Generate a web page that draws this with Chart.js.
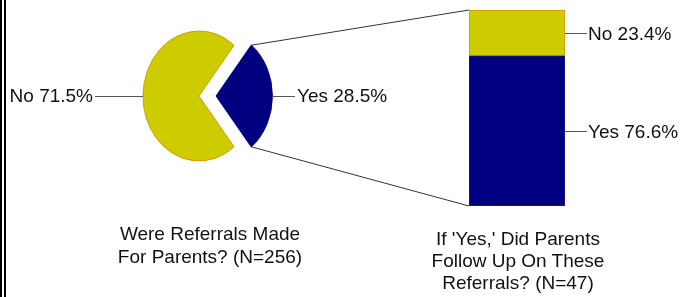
<!DOCTYPE html>
<html>
<head>
<meta charset="utf-8">
<script src="https://cdn.jsdelivr.net/npm/chart.js@4.4.0/dist/chart.umd.min.js"></script>
<style>
  html, body { margin: 0; padding: 0; background: #fff; }
  #wrap { position: relative; width: 689px; height: 297px; overflow: hidden; }
  #wrap canvas { position: absolute; left: 0; top: 0; }
  #edge { position: absolute; left: 0; top: 0; width: 0; height: 297px; border-left: 6px double #000; }
  .title { position: absolute; width: 220px; text-align: center; font-family: "Liberation Sans", Arial, sans-serif; font-size: 19px; color: #111; }
</style>
</head>
<body>
<div id="wrap">
  <canvas id="pieChart" width="689" height="297"></canvas>
  <canvas id="barChart" width="689" height="297"></canvas>
  <div id="edge"></div>
  <div class="title" id="pieTitle" style="left:100px; top:222px; line-height:23px;"></div>
  <div class="title" id="barTitle" style="left:408px; top:228px; line-height:22px;"></div>
</div>
<script>
// data
var pieLabels = ['Yes', 'No'];
var pieValues = [28.5, 71.5];
var barLabels = ['Yes', 'No'];
var barValues = [76.6, 23.4];
var pieTitleLines = ['Were Referrals Made', 'For Parents? (N=256)'];
var barTitleLines = ["If 'Yes,' Did Parents", 'Follow Up On These', 'Referrals? (N=47)'];

var navy = '#000080';
var olive = '#cccc00';
var orange = '#e09000';
var labelFont = '19px "Liberation Sans", Arial, sans-serif';
var squeeze = 56 / 65;          // pie is drawn a bit narrower than tall
var pieLeader = [23, 48];        // leader line length for each pie label
var barLeader = 22;

document.getElementById('pieTitle').innerHTML = pieTitleLines.join('<br>');
document.getElementById('barTitle').innerHTML = barTitleLines.join('<br>');

// point on the (exploded, squeezed) pie edge
function piePoint(arc, angle) {
    var p = arc.getProps(['x', 'y', 'startAngle', 'endAngle', 'outerRadius'], true);
    var mid = (p.startAngle + p.endAngle) / 2;
    var off = (arc.options.offset || 0) / 4;
    var x0 = p.x + Math.cos(mid) * off + Math.cos(angle) * p.outerRadius;
    var y0 = p.y + Math.sin(mid) * off + Math.sin(angle) * p.outerRadius;
    return { x: p.x + (x0 - p.x) * squeeze, y: y0 };
}

var ellipsePlugin = {
    id: 'ellipse',
    beforeDatasetsDraw: function (chart) {
        var a = chart.getDatasetMeta(0).data[0];
        var ctx = chart.ctx;
        ctx.save();
        ctx.translate(a.x, a.y);
        ctx.scale(squeeze, 1);
        ctx.translate(-a.x, -a.y);
    },
    afterDatasetsDraw: function (chart) {
        chart.ctx.restore();
    }
};

var pieLabelPlugin = {
    id: 'pieLabels',
    afterDraw: function (chart) {
        var ctx = chart.ctx;
        var arcs = chart.getDatasetMeta(0).data;
        ctx.save();
        ctx.font = labelFont;
        ctx.textBaseline = 'middle';
        arcs.forEach(function (arc, i) {
            var mid = (arc.startAngle + arc.endAngle) / 2;
            var edge = piePoint(arc, mid);
            var dir = Math.cos(mid) >= 0 ? 1 : -1;
            var end = edge.x + dir * pieLeader[i];
            ctx.strokeStyle = '#555';
            ctx.lineWidth = 1;
            ctx.beginPath();
            ctx.moveTo(edge.x, edge.y + 0.5);
            ctx.lineTo(end, edge.y + 0.5);
            ctx.stroke();
            ctx.fillStyle = '#111';
            ctx.textAlign = dir > 0 ? 'left' : 'right';
            ctx.fillText(pieLabels[i] + ' ' + pieValues[i] + '%', end + dir * 2, edge.y + 1);
        });
        ctx.restore();
    }
};

var pieChart = new Chart(document.getElementById('pieChart').getContext('2d'), {
    type: 'pie',
    data: {
        labels: pieLabels,
        datasets: [{
            data: pieValues,
            backgroundColor: [navy, olive],
            borderColor: [navy, orange],
            borderWidth: 1,
            offset: [79, 0],
            clip: false
        }]
    },
    options: {
        responsive: false,
        animation: false,
        events: [],
        rotation: 90 - pieValues[0] / 100 * 180,
        radius: 65,
        layout: { padding: { left: 134, right: 425, top: 31, bottom: 136 } },
        plugins: { legend: { display: false }, tooltip: { enabled: false } }
    },
    plugins: [ellipsePlugin, pieLabelPlugin]
});

var barLabelPlugin = {
    id: 'barLabels',
    afterDraw: function (chart) {
        var ctx = chart.ctx;
        ctx.save();
        // lines joining the exploded slice to the bar
        var arc = pieChart.getDatasetMeta(0).data[0];
        var topEl = chart.getDatasetMeta(1).data[0];
        var botEl = chart.getDatasetMeta(0).data[0];
        var left = topEl.x - topEl.width / 2;
        var a = piePoint(arc, arc.startAngle);
        var b = piePoint(arc, arc.endAngle);
        ctx.strokeStyle = '#333';
        ctx.lineWidth = 1;
        ctx.beginPath();
        ctx.moveTo(a.x, a.y);
        ctx.lineTo(left, topEl.y);
        ctx.moveTo(b.x, b.y);
        ctx.lineTo(left, botEl.base);
        ctx.stroke();

        ctx.font = labelFont;
        ctx.textBaseline = 'middle';
        ctx.textAlign = 'left';
        chart.data.datasets.forEach(function (ds, i) {
            var el = chart.getDatasetMeta(i).data[0];
            var right = el.x + el.width / 2;
            var y = Math.round((el.y + el.base) / 2) + 0.5;
            ctx.strokeStyle = '#555';
            ctx.beginPath();
            ctx.moveTo(right, y);
            ctx.lineTo(right + barLeader, y);
            ctx.stroke();
            ctx.fillStyle = '#111';
            ctx.fillText(barLabels[i] + ' ' + barValues[i] + '%', right + barLeader + 1, y + 1);
        });
        ctx.restore();
    }
};

new Chart(document.getElementById('barChart').getContext('2d'), {
    type: 'bar',
    data: {
        labels: [''],
        datasets: [{
            label: barLabels[0],
            data: [barValues[0]],
            backgroundColor: navy,
            borderColor: '#202070',
            borderWidth: 1,
            borderSkipped: false
        }, {
            label: barLabels[1],
            data: [barValues[1]],
            backgroundColor: olive,
            borderColor: orange,
            borderWidth: 1,
            borderSkipped: false
        }]
    },
    options: {
        responsive: false,
        animation: false,
        events: [],
        datasets: { bar: { barPercentage: 1, categoryPercentage: 1 } },
        layout: { padding: { left: 469, right: 124, top: 10, bottom: 91 } },
        scales: {
            x: { display: false, stacked: true },
            y: { display: false, stacked: true, min: 0, max: 100 }
        },
        plugins: { legend: { display: false }, tooltip: { enabled: false } }
    },
    plugins: [barLabelPlugin]
});
</script>
</body>
</html>
